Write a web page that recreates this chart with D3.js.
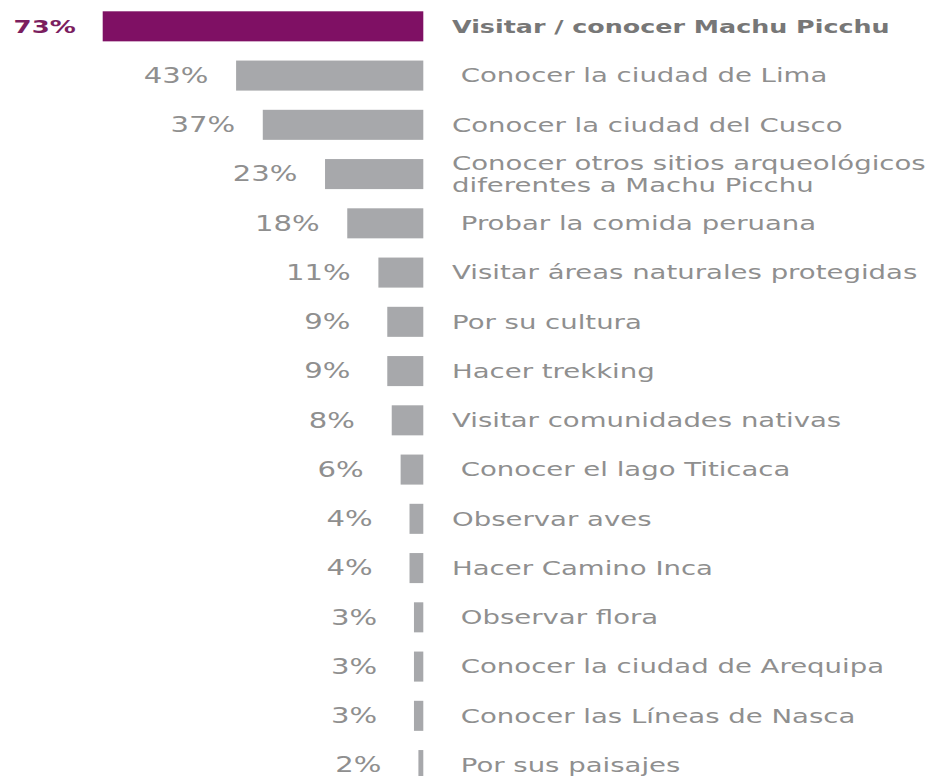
<!DOCTYPE html>
<html>
<head>
<meta charset="utf-8">
<script src="https://cdn.jsdelivr.net/npm/d3@7"></script>
<style>
  html, body { margin: 0; padding: 0; background: #ffffff; }
  svg { display: block; }
  text { font-family: "DejaVu Sans", sans-serif; white-space: pre; }
</style>
</head>
<body>
<svg id="chart" width="927" height="776"></svg>
<script>
// Motivos de viaje al Perú (% de menciones)
const categories = [
  "Visitar / conocer Machu Picchu",
  " Conocer la ciudad de Lima",
  "Conocer la ciudad del Cusco",
  "Conocer otros sitios arqueológicos\ndiferentes a Machu Picchu",
  " Probar la comida peruana",
  "Visitar áreas naturales protegidas",
  "Por su cultura",
  "Hacer trekking",
  "Visitar comunidades nativas",
  " Conocer el lago Titicaca",
  "Observar aves",
  "Hacer Camino Inca",
  " Observar flora",
  " Conocer la ciudad de Arequipa",
  " Conocer las Líneas de Nasca",
  " Por sus paisajes"
];
const values = [73, 43, 37, 23, 18, 11, 9, 9, 8, 6, 4, 4, 3, 3, 3, 2];
const valueLabels = ["73%", "43%", "37%", "23%", "18%", "11%", "9%", "9%", "8%", "6%", "4%", "4%", "3%", "3%", "3%", "2%"];

const rows = categories.map((c, i) => ({ category: c, value: values[i], label: valueLabels[i], index: i }));

const svg = d3.select("#chart");

// Bars grow leftwards from a common right edge
const x = d3.scaleLinear().domain([0.9, 73]).range([423.3, 102.7]);
const barRight = x(x.domain()[0]);

const y = d3.scaleBand()
  .domain(d3.range(rows.length))
  .range([1.7, 789.7])
  .paddingInner(0.39)
  .paddingOuter(0.195);

const STRETCH_PCT = 1.42;        // wide letterforms
const STRETCH_CAT = 1.45;
const PURPLE = "#7f1064";
const BAR_GREY = "#a7a8ab";
const TEXT_GREY = "#8f8f8f";

// bars
svg.append("g")
  .selectAll("rect")
  .data(rows)
  .join("rect")
  .attr("x", d => x(d.value))
  .attr("y", d => y(d.index))
  .attr("width", d => barRight - x(d.value))
  .attr("height", y.bandwidth())
  .attr("fill", d => d.index === 0 ? PURPLE : BAR_GREY);

// percentage labels, centred a fixed distance left of each bar
svg.append("g")
  .selectAll("text")
  .data(rows)
  .join("text")
  .attr("transform", d => `translate(${x(d.value) - (d.index === 0 ? 58 : 60)},${y(d.index) + y.bandwidth() / 2}) scale(${STRETCH_PCT},1)`)
  .attr("text-anchor", "middle")
  .attr("dy", "0.36em")
  .attr("font-size", d => d.index === 0 ? 18.3 : 20.5)
  .attr("font-weight", d => d.index === 0 ? "bold" : "normal")
  .attr("fill", d => d.index === 0 ? "#7b1e5f" : TEXT_GREY)
  .text(d => d.label);

// category labels to the right of the bars
const catLabels = svg.append("g")
  .selectAll("text")
  .data(rows)
  .join("text")
  .attr("transform", d => `translate(${barRight + 28.7},${y(d.index) + y.bandwidth() / 2}) scale(${STRETCH_CAT},1)`)
  .attr("font-size", d => d.index === 0 ? 17.5 : 19)
  .attr("font-weight", d => d.index === 0 ? "bold" : "normal")
  .attr("fill", d => d.index === 0 ? "#777777" : TEXT_GREY);

catLabels.each(function(d) {
  const lines = d.category.split("\n");
  const t = d3.select(this);
  const lineGap = 22;
  lines.forEach((line, k) => {
    t.append("tspan")
      .attr("x", 0)
      .attr("y", (k - (lines.length - 1) / 2) * lineGap)
      .attr("dy", "0.36em")
      .text(line);
  });
});
</script>
</body>
</html>
